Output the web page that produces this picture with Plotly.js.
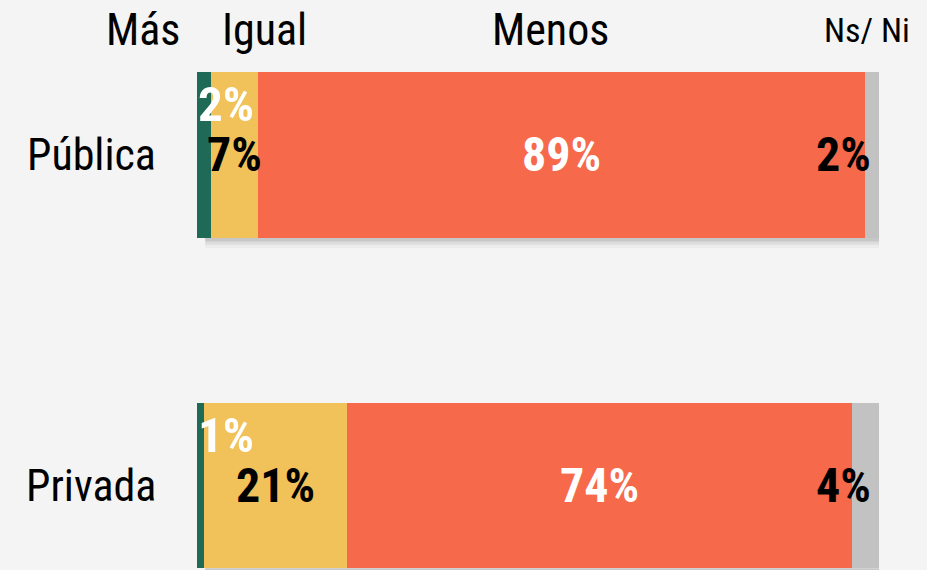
<!DOCTYPE html>
<html>
<head>
<meta charset="utf-8">
<script src="https://cdn.plot.ly/plotly-3.0.1.min.js"></script>
<style>
  html, body { margin: 0; padding: 0; background: #f4f4f4; }
  #chart { width: 927px; height: 570px; }
</style>
</head>
<body>
<div id="chart"></div>
<script>
// ---- data ----
const categories = ['Privada', 'Pública'];
const seriesNames = ['Más', 'Igual', 'Menos', 'Ns/ Ni'];
const mas   = [1, 2];
const igual = [21, 7];
const menos = [74, 89];
const nsni  = [4, 2];

// ---- style ----
const colors = ['#1e6a56', '#f0c259', '#f6694a', '#c2c2c2'];
const FONT = 'Liberation Sans Narrow, Arial Narrow, Roboto Condensed, sans-serif';
const series = [mas, igual, menos, nsni];

const traces = series.map((vals, i) => ({
  type: 'bar',
  orientation: 'h',
  name: seriesNames[i],
  y: [0, 1],
  x: vals,
  width: 0.5,
  marker: { color: colors[i], line: { width: 0 } },
  textposition: 'none',
  hoverinfo: 'x+name'
}));

const annotations = [];
const shapes = [];
categories.forEach((cat, j) => {
  // category label
  annotations.push({
    xref: 'paper', yref: 'y', x: -0.057, y: j, xanchor: 'right', yanchor: 'middle',
    text: cat, showarrow: false, font: { family: FONT, size: 44, color: '#000' }
  });
  const m = mas[j], ig = igual[j], me = menos[j], ns = nsni[j];
  // Más label (white, above centre, from the bar start)
  annotations.push({
    x: 0, y: j, xref: 'x', yref: 'y', xanchor: 'left', yanchor: 'middle', yshift: 50, xshift: -1,
    text: '<b>' + m + '%</b>', showarrow: false, font: { family: FONT, size: 49, color: '#ffffff' }
  });
  // Igual label (centre of segment)
  annotations.push({
    x: m + ig / 2, y: j, xref: 'x', yref: 'y', xanchor: 'center', yanchor: 'middle',
    text: '<b>' + ig + '%</b>', showarrow: false, font: { family: FONT, size: 48, color: '#000' }
  });
  // Menos label
  annotations.push({
    x: m + ig + me / 2, y: j, xref: 'x', yref: 'y', xanchor: 'center', yanchor: 'middle',
    text: '<b>' + me + '%</b>', showarrow: false, font: { family: FONT, size: 48, color: '#ffffff' }
  });
  // Ns/Ni label near the right end
  annotations.push({
    x: m + ig + me + ns, y: j, xref: 'x', yref: 'y', xanchor: 'right', yanchor: 'middle', xshift: -6,
    text: '<b>' + ns + '%</b>', showarrow: false, font: { family: FONT, size: 48, color: '#000' }
  });
  // soft shadow below each bar
  const tot = m + ig + me + ns;
  [[0.012, 0.10], [0.022, 0.06], [0.032, 0.03]].forEach(([d, a]) => {
    shapes.push({
      type: 'rect', layer: 'below', xref: 'x', yref: 'y',
      x0: 1.2, x1: tot, y0: j - 0.25 - d, y1: j - 0.25,
      fillcolor: 'rgba(0,0,0,' + a + ')', line: { width: 0 }
    });
  });
});

// column headers
const headerX = [-0.079, 0.0997, 0.5176, 0.9824];
const headerSize = [44, 44, 44, 34];
seriesNames.forEach((n, i) => {
  annotations.push({
    xref: 'paper', yref: 'paper', x: headerX[i], y: 1 - 30 / 570, xanchor: 'center', yanchor: 'middle',
    text: n, showarrow: false, font: { family: FONT, size: headerSize[i], color: '#000' }
  });
});

const layout = {
  width: 927, height: 570,
  margin: { l: 197, r: 48, t: 0, b: 0, pad: 0 },
  paper_bgcolor: '#f4f4f4', plot_bgcolor: '#f4f4f4',
  barmode: 'stack',
  showlegend: false,
  xaxis: { range: [0, 100], showgrid: false, zeroline: false, showticklabels: false, showline: false, fixedrange: true },
  yaxis: { range: [-0.255, 1.468], showgrid: false, zeroline: false, showticklabels: false, showline: false, fixedrange: true },
  annotations: annotations,
  shapes: shapes
};

Plotly.newPlot('chart', traces, layout, { displayModeBar: false, staticPlot: true });
</script>
</body>
</html>
